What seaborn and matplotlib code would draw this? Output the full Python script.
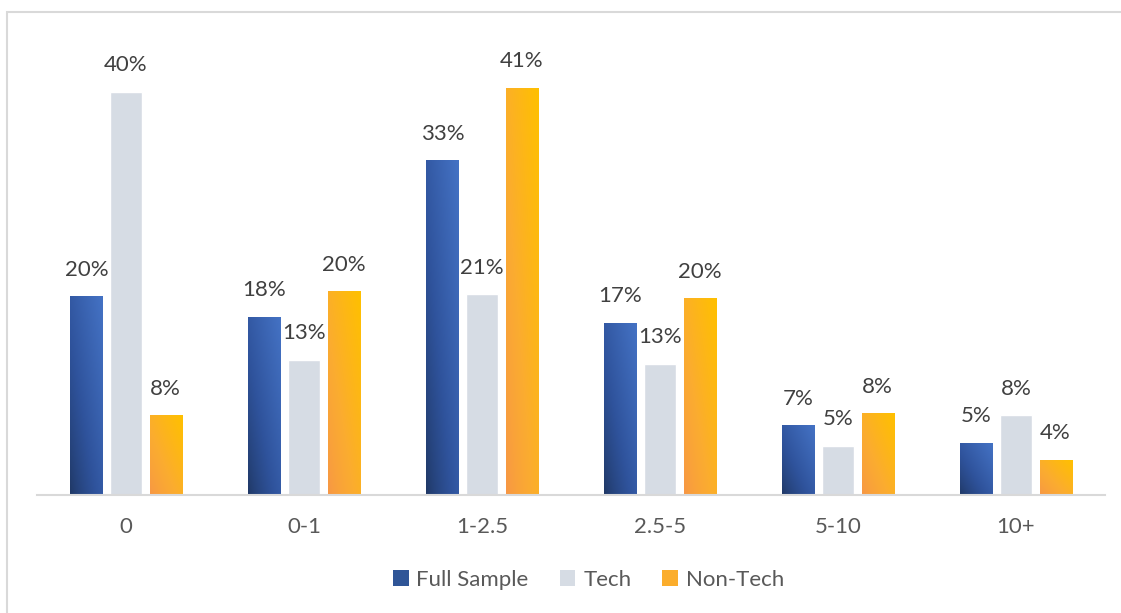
import numpy as np
import pandas as pd
import matplotlib
matplotlib.use("Agg")
import matplotlib.pyplot as plt
from matplotlib.colors import LinearSegmentedColormap
from matplotlib.patches import Patch, Rectangle
import seaborn as sns

# ── Data ──────────────────────────────────────────────────────
categories = ["0", "0-1", "1-2.5", "2.5-5", "5-10", "10+"]
series = ["Full Sample", "Tech", "Non-Tech"]
full_sample = [19.7, 17.7, 33.2, 17.1, 6.9, 5.2]
tech = [40.0, 13.4, 19.9, 13.0, 4.9, 7.9]
non_tech = [7.9, 20.2, 40.4, 19.5, 8.1, 3.5]
full_labels = ["20%", "18%", "33%", "17%", "7%", "5%"]
tech_labels = ["40%", "13%", "21%", "13%", "5%", "8%"]
non_tech_labels = ["8%", "20%", "41%", "20%", "8%", "4%"]

df = pd.DataFrame({
    "bucket": categories * 3,
    "group": [s for s in series for _ in categories],
    "share": full_sample + tech + non_tech,
})

# ── Style ─────────────────────────────────────────────────────
sns.set_theme(style="white")
plt.rcParams["font.family"] = ["Lato", "DejaVu Sans"]

BLUE_CMAP = LinearSegmentedColormap.from_list("blue", ["#1f3763", "#2f539c", "#4472c4"])
ORANGE_CMAP = LinearSegmentedColormap.from_list("orange", ["#f79646", "#fbac30", "#ffc000"])
TECH = "#d6dce4"
palette = {"Full Sample": "#2f5597", "Tech": TECH, "Non-Tech": "#fbad2c"}

fig = plt.figure(figsize=(11.21, 6.13), dpi=100)
ax = fig.add_axes([37 / 1121, 118 / 613, 1068 / 1121, 453.6 / 613])

sns.barplot(data=df, x="bucket", y="share", hue="group", order=categories,
            hue_order=series, palette=palette, width=0.666, gap=0.19,
            legend=False, ax=ax, saturation=1)

# gradient fill on the blue and orange bars
def gradient_fill(container, cmap):
    for bar in container:
        x0, w, h = bar.get_x(), bar.get_width(), bar.get_height()
        xn = np.linspace(0, 1, 40)[None, :]
        yn = np.linspace(0, 1, 200)[:, None]
        v = ((xn + yn) / 2) ** 0.75
        img = ax.imshow(v, cmap=cmap, vmin=0, vmax=1, origin="lower",
                        extent=(x0, x0 + w, 0, h), aspect="auto", zorder=bar.get_zorder() + 0.1)
        img.set_clip_path(bar)

gradient_fill(ax.containers[0], BLUE_CMAP)
gradient_fill(ax.containers[2], ORANGE_CMAP)
ax.set_xlim(-0.5, 5.5)
ax.set_ylim(0, 45)

for cont, labs in zip(ax.containers, [full_labels, tech_labels, non_tech_labels]):
    ax.bar_label(cont, labels=labs, padding=12, fontsize=16, color="#404040")

# axes cosmetics
sns.despine(ax=ax, left=True, top=True, right=True)
ax.spines["bottom"].set_color("#d9d9d9")
ax.spines["bottom"].set_linewidth(1.5)
ax.set_yticks([])
ax.set_xlabel("")
ax.set_ylabel("")
ax.tick_params(axis="x", length=0, pad=16, labelsize=16, labelcolor="#595959")

# legend
handles = [Patch(facecolor=palette[s], edgecolor="none", label=s) for s in series]
fig.legend(handles=handles, loc="center", bbox_to_anchor=(0.525, 0.054), ncol=3,
           frameon=False, fontsize=16, labelcolor="#595959", handlelength=0.7,
           handleheight=0.7, handletextpad=0.35, columnspacing=1.4)

# chart border
fig.patches.append(Rectangle((7 / 1121, -0.05), 1.2, (601 / 613) + 0.05,
                             transform=fig.transFigure, fill=False,
                             edgecolor="#d9d9d9", linewidth=1.5))

fig.savefig("out.png", dpi=100)
